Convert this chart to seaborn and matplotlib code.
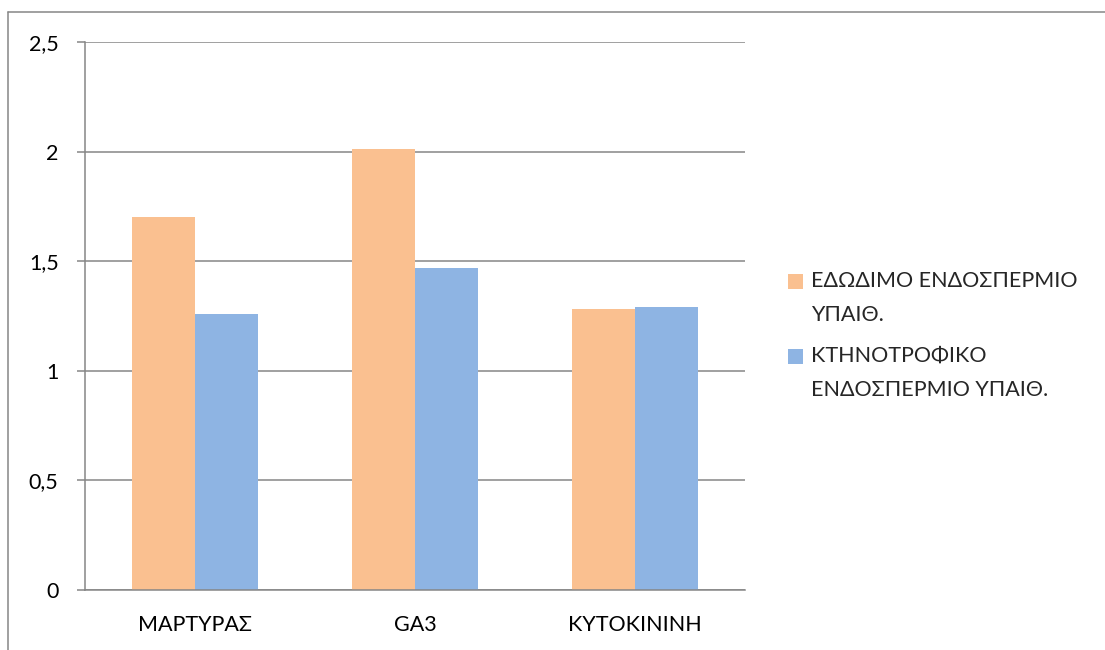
import matplotlib
matplotlib.use("Agg")
import matplotlib.pyplot as plt
from matplotlib.patches import Rectangle
from matplotlib.legend_handler import HandlerPatch
from matplotlib.lines import Line2D
import seaborn as sns
import pandas as pd

# Data
categories = ["ΜΑΡΤΥΡΑΣ", "GA3", "ΚΥΤΟΚΙΝΙΝΗ"]
series_names = ["ΕΔΩΔΙΜΟ ΕΝΔΟΣΠΕΡΜΙΟ\nΥΠΑΙΘ.", "ΚΤΗΝΟΤΡΟΦΙΚΟ\nΕΝΔΟΣΠΕΡΜΙΟ ΥΠΑΙΘ."]
edible_values = [1.70, 2.01, 1.28]
feed_values = [1.26, 1.47, 1.29]
y_ticks = [0, 0.5, 1, 1.5, 2, 2.5]
y_tick_labels = ["0", "0,5", "1", "1,5", "2", "2,5"]

colors = ["#FAC090", "#8EB4E3"]
grey = "#868686"
FS = 15.5

df = pd.DataFrame({
    "category": categories * 2,
    "series": [series_names[0]] * 3 + [series_names[1]] * 3,
    "value": edible_values + feed_values,
})

sns.set_theme(style="white")
plt.rcParams["font.family"] = ["Lato", "DejaVu Sans"]

fig = plt.figure(figsize=(11.05, 6.5), dpi=100)
ax = fig.add_axes([85 / 1105, 60 / 650, 660 / 1105, 548 / 650])

sns.barplot(data=df, x="category", y="value", hue="series", order=categories,
            hue_order=series_names, palette=colors, width=0.57, gap=0,
            saturation=1, ax=ax, legend=True, linewidth=0)

ax.set_xlim(-0.5, 2.5)
ax.set_ylim(0, 2.5)
ax.set_xlabel("")
ax.set_ylabel("")

ax.set_yticks(y_ticks)
ax.set_yticklabels(y_tick_labels)
ax.yaxis.grid(True, color=grey, linewidth=1.1)
ax.set_axisbelow(True)

ax.set_xticks([-0.5, 0.5, 1.5, 2.5], minor=True)
ax.tick_params(axis="x", which="minor", length=5, width=1.1, color=grey, direction="out")
ax.tick_params(axis="x", which="major", length=0, pad=18, labelsize=FS, labelcolor="#000000")
ax.tick_params(axis="y", which="major", length=6, width=1.1, color=grey, direction="out",
               pad=13, labelsize=FS, labelcolor="#000000")
ax.tick_params(left=True, bottom=True)

for side in ["top", "right"]:
    ax.spines[side].set_visible(False)
for side in ["left", "bottom"]:
    ax.spines[side].set_color(grey)
    ax.spines[side].set_linewidth(1.1)


class TopAlignedPatch(HandlerPatch):
    """Legend swatch aligned with the first line of a two-line label."""
    def create_artists(self, legend, orig_handle, xdescent, ydescent, width, height,
                       fontsize, trans):
        size = 10.8
        shift = 11.9
        p = Rectangle((-xdescent, -ydescent + (height - size) / 2 + shift), size, size,
                      facecolor=orig_handle.get_facecolor(), edgecolor="none",
                      transform=trans)
        return [p]


handles, labels = ax.get_legend_handles_labels()
ax.get_legend().remove()
leg = fig.legend(handles, labels, loc="center left", bbox_to_anchor=(788 / 1105, 0.484),
                 frameon=False, fontsize=FS, handler_map={Rectangle: TopAlignedPatch()},
                 handlelength=0.7, handletextpad=0.37, labelspacing=1.0,
                 borderpad=0, borderaxespad=0)
for t in leg.get_texts():
    t.set_linespacing(1.85)

# Outer chart frame (left and top edges)
fig.add_artist(Line2D([8 / 1105, 8 / 1105], [0, 1 - 12 / 650], transform=fig.transFigure,
                      color=grey, linewidth=1.1))
fig.add_artist(Line2D([8 / 1105, 1], [1 - 12 / 650, 1 - 12 / 650], transform=fig.transFigure,
                      color=grey, linewidth=1.1))

fig.savefig("out.png", dpi=100, facecolor="white")
